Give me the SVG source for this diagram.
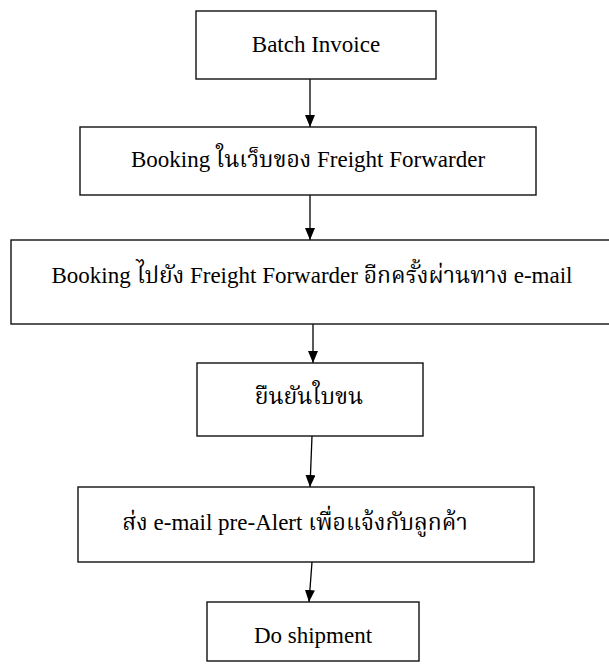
<svg xmlns="http://www.w3.org/2000/svg" width="609" height="664" viewBox="0 0 609 664">
<style>
.box{fill:#fff;stroke:#111;stroke-width:1.4}
.t{font-family:"Liberation Serif","Noto Serif Thai","Noto Sans Thai","Noto Sans",serif;font-size:23px;fill:#000;text-anchor:middle}
.c{stroke:#000;stroke-width:1.3;fill:none}
</style>
<defs>
<marker id="ah" viewBox="0 0 12 10" refX="12" refY="5" markerWidth="12" markerHeight="10" markerUnits="userSpaceOnUse" orient="auto">
<path d="M0,0 L12,5 L0,10 Z" fill="#000"/>
</marker>
</defs>
<rect width="609" height="664" fill="#fff"/>
<g id="connectors">
<line class="c" x1="310" y1="79" x2="310" y2="127" marker-end="url(#ah)"/>
<line class="c" x1="310" y1="195" x2="310" y2="240" marker-end="url(#ah)"/>
<line class="c" x1="313" y1="324" x2="313" y2="363" marker-end="url(#ah)"/>
<line class="c" x1="312" y1="436" x2="310" y2="487" marker-end="url(#ah)"/>
<line class="c" x1="312" y1="562" x2="309" y2="602" marker-end="url(#ah)"/>
</g>
<g id="n1">
<rect class="box" x="196" y="11" width="240" height="68"/>
<text class="t" x="316" y="52">Batch Invoice</text>
</g>
<g id="n2">
<rect class="box" x="80" y="127" width="456" height="68"/>
<text class="t" x="308" y="167">Booking ในเว็บของ Freight Forwarder</text>
</g>
<g id="n3">
<rect class="box" x="11" y="240" width="610" height="84"/>
<text class="t" x="312" y="283">Booking ไปยัง Freight Forwarder อีกครั้งผ่านทาง e-mail</text>
</g>
<g id="n4">
<rect class="box" x="197" y="363" width="226" height="73"/>
<text class="t" x="309" y="404">ยืนยันใบขน</text>
</g>
<g id="n5">
<rect class="box" x="78" y="487" width="456" height="75"/>
<text class="t" x="295" y="530">ส่ง e-mail pre-Alert เพื่อแจ้งกับลูกค้า</text>
</g>
<g id="n6">
<rect class="box" x="207" y="602" width="212" height="59"/>
<text class="t" x="313" y="643">Do shipment</text>
</g>
</svg>
